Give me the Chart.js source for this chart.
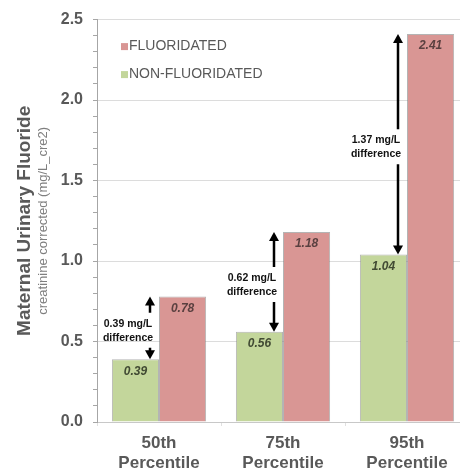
<!DOCTYPE html>
<html>
<head>
<meta charset="utf-8">
<script src="https://cdn.jsdelivr.net/npm/chart.js@4"></script>
<style>
  html, body { margin: 0; padding: 0; background: #fff; overflow: hidden; }
  #wrap { width: 470px; height: 472px; position: relative; }
</style>
</head>
<body>
<div id="wrap"><canvas id="fluorideChart"></canvas></div>
<script>
// data
const categories = [['50th', 'Percentile'], ['75th', 'Percentile'], ['95th', 'Percentile']];
const nonFluoridated = [0.39, 0.56, 1.04];
const fluoridated = [0.78, 1.18, 2.41];
const seriesNames = ['NON-FLUORIDATED', 'FLUORIDATED'];
const yTitle = 'Maternal Urinary Fluoride';
const ySubTitle = 'creatinine corrected (mg/L_cre2)';

const FONT = '"Liberation Sans", Arial, sans-serif';
const GREEN = '#c3d69b';
const RED = '#d99694';

function isMajor(v) {
  return Math.abs(v * 2 - Math.round(v * 2)) < 1e-6;
}

// value labels inside bar tops
const valueLabels = {
  id: 'valueLabels',
  afterDatasetsDraw(chart) {
    const ctx = chart.ctx;
    ctx.save();
    ctx.font = 'italic bold 12px ' + FONT;
    ctx.textAlign = 'center';
    ctx.textBaseline = 'middle';
    chart.data.datasets.forEach(function (ds, di) {
      ctx.fillStyle = di == 0 ? '#414a33' : '#5a4040';
      chart.getDatasetMeta(di).data.forEach(function (bar, i) {
        ctx.fillText(ds.data[i].toFixed(2), bar.x, bar.y + 12);
      });
    });
    ctx.restore();
  }
};

// difference arrows between the two bars
const diffArrows = {
  id: 'diffArrows',
  afterDatasetsDraw(chart) {
    const ctx = chart.ctx;
    const g = chart.getDatasetMeta(0).data;
    const r = chart.getDatasetMeta(1).data;
    ctx.save();
    ctx.strokeStyle = '#000';
    ctx.fillStyle = '#000';
    ctx.lineWidth = 2.5;
    for (let i = 0; i < g.length; i++) {
      const ax = g[i].x + g[i].width / 2 - 9;
      const yTop = r[i].y;
      const yBot = g[i].y;
      const mid = (yTop + yBot) / 2 + 2;
      const diff = (fluoridated[i] - nonFluoridated[i]).toFixed(2);

      ctx.beginPath();
      ctx.moveTo(ax, yTop + 6);
      ctx.lineTo(ax, mid - 17);
      ctx.moveTo(ax, mid + 18);
      ctx.lineTo(ax, yBot - 6);
      ctx.stroke();

      ctx.beginPath();
      ctx.moveTo(ax, yTop);
      ctx.lineTo(ax - 5, yTop + 9);
      ctx.lineTo(ax + 5, yTop + 9);
      ctx.closePath();
      ctx.fill();

      ctx.beginPath();
      ctx.moveTo(ax, yBot);
      ctx.lineTo(ax - 5, yBot - 9);
      ctx.lineTo(ax + 5, yBot - 9);
      ctx.closePath();
      ctx.fill();

      ctx.font = 'bold 10.5px ' + FONT;
      ctx.textAlign = 'center';
      ctx.textBaseline = 'middle';
      ctx.fillStyle = '#111';
      ctx.fillText(diff + ' mg/L', ax - 22, mid - 6);
      ctx.fillText('difference', ax - 22, mid + 8);
      ctx.fillStyle = '#000';
    }
    ctx.restore();
  }
};

// legend inside the plot, fluoridated first
const innerLegend = {
  id: 'innerLegend',
  afterDraw(chart) {
    const ctx = chart.ctx;
    const a = chart.chartArea;
    const items = [[seriesNames[1], RED], [seriesNames[0], GREEN]];
    ctx.save();
    ctx.font = '14px ' + FONT;
    ctx.textBaseline = 'middle';
    ctx.textAlign = 'left';
    items.forEach(function (it, k) {
      const y = a.top + 27 + k * 28;
      ctx.fillStyle = it[1];
      ctx.fillRect(a.left + 24, y - 3.5, 7, 7);
      ctx.fillStyle = '#595959';
      ctx.fillText(it[0], a.left + 32, y);
    });
    ctx.restore();
  }
};

// two-line rotated y title
const yTitles = {
  id: 'yTitles',
  afterDraw(chart) {
    const ctx = chart.ctx;
    const a = chart.chartArea;
    const cy = (a.top + a.bottom) / 2;
    ctx.save();
    ctx.textAlign = 'center';
    ctx.textBaseline = 'middle';
    ctx.translate(25, cy);
    ctx.rotate(-Math.PI / 2);
    ctx.fillStyle = '#595959';
    ctx.font = 'bold 19px ' + FONT;
    ctx.fillText(yTitle, 0, 0);
    ctx.fillStyle = '#7f7f7f';
    ctx.font = '13px ' + FONT;
    ctx.fillText(ySubTitle, 0, 18);
    ctx.restore();
  }
};

const el = document.getElementById('fluorideChart');
new Chart(el, {
  type: 'bar',
  data: {
    labels: categories,
    datasets: [
      {
        label: seriesNames[0],
        data: nonFluoridated,
        backgroundColor: GREEN,
        borderColor: 'rgba(130,130,130,0.6)',
        borderWidth: 1
      },
      {
        label: seriesNames[1],
        data: fluoridated,
        backgroundColor: RED,
        borderColor: 'rgba(130,130,130,0.6)',
        borderWidth: 1
      }
    ]
  },
  options: {
    responsive: true,
    maintainAspectRatio: false,
    animation: false,
    devicePixelRatio: 1,
    layout: { padding: { left: 0, top: 17, right: 1, bottom: 0 } },
    datasets: { bar: { categoryPercentage: 0.76, barPercentage: 1 } },
    plugins: {
      legend: { display: false },
      tooltip: { enabled: false }
    },
    scales: {
      x: {
        grid: {
          offset: true,
          drawOnChartArea: false,
          tickLength: 4,
          tickColor: '#e0e0e0'
        },
        border: { color: '#c8c8c8' },
        ticks: {
          color: '#595959',
          font: { family: FONT, size: 17, weight: 'bold', lineHeight: 1.2 },
          padding: 7,
          maxRotation: 0
        },
        afterFit(scale) { scale.height = 50; }
      },
      y: {
        min: 0,
        max: 2.5,
        grid: {
          color: function (c) { return isMajor(c.tick.value) ? '#dcdcdc' : 'rgba(0,0,0,0)'; },
          tickColor: '#a6a6a6',
          tickLength: 4
        },
        border: { color: '#a6a6a6' },
        ticks: {
          stepSize: 0.1,
          autoSkip: false,
          padding: 10,
          color: '#595959',
          font: { family: FONT, size: 16, weight: 'bold' },
          callback: function (v) { return isMajor(v) ? v.toFixed(1) : ''; }
        },
        afterFit(scale) { scale.width = 97; }
      }
    }
  },
  plugins: [valueLabels, diffArrows, innerLegend, yTitles]
});
</script>
</body>
</html>
